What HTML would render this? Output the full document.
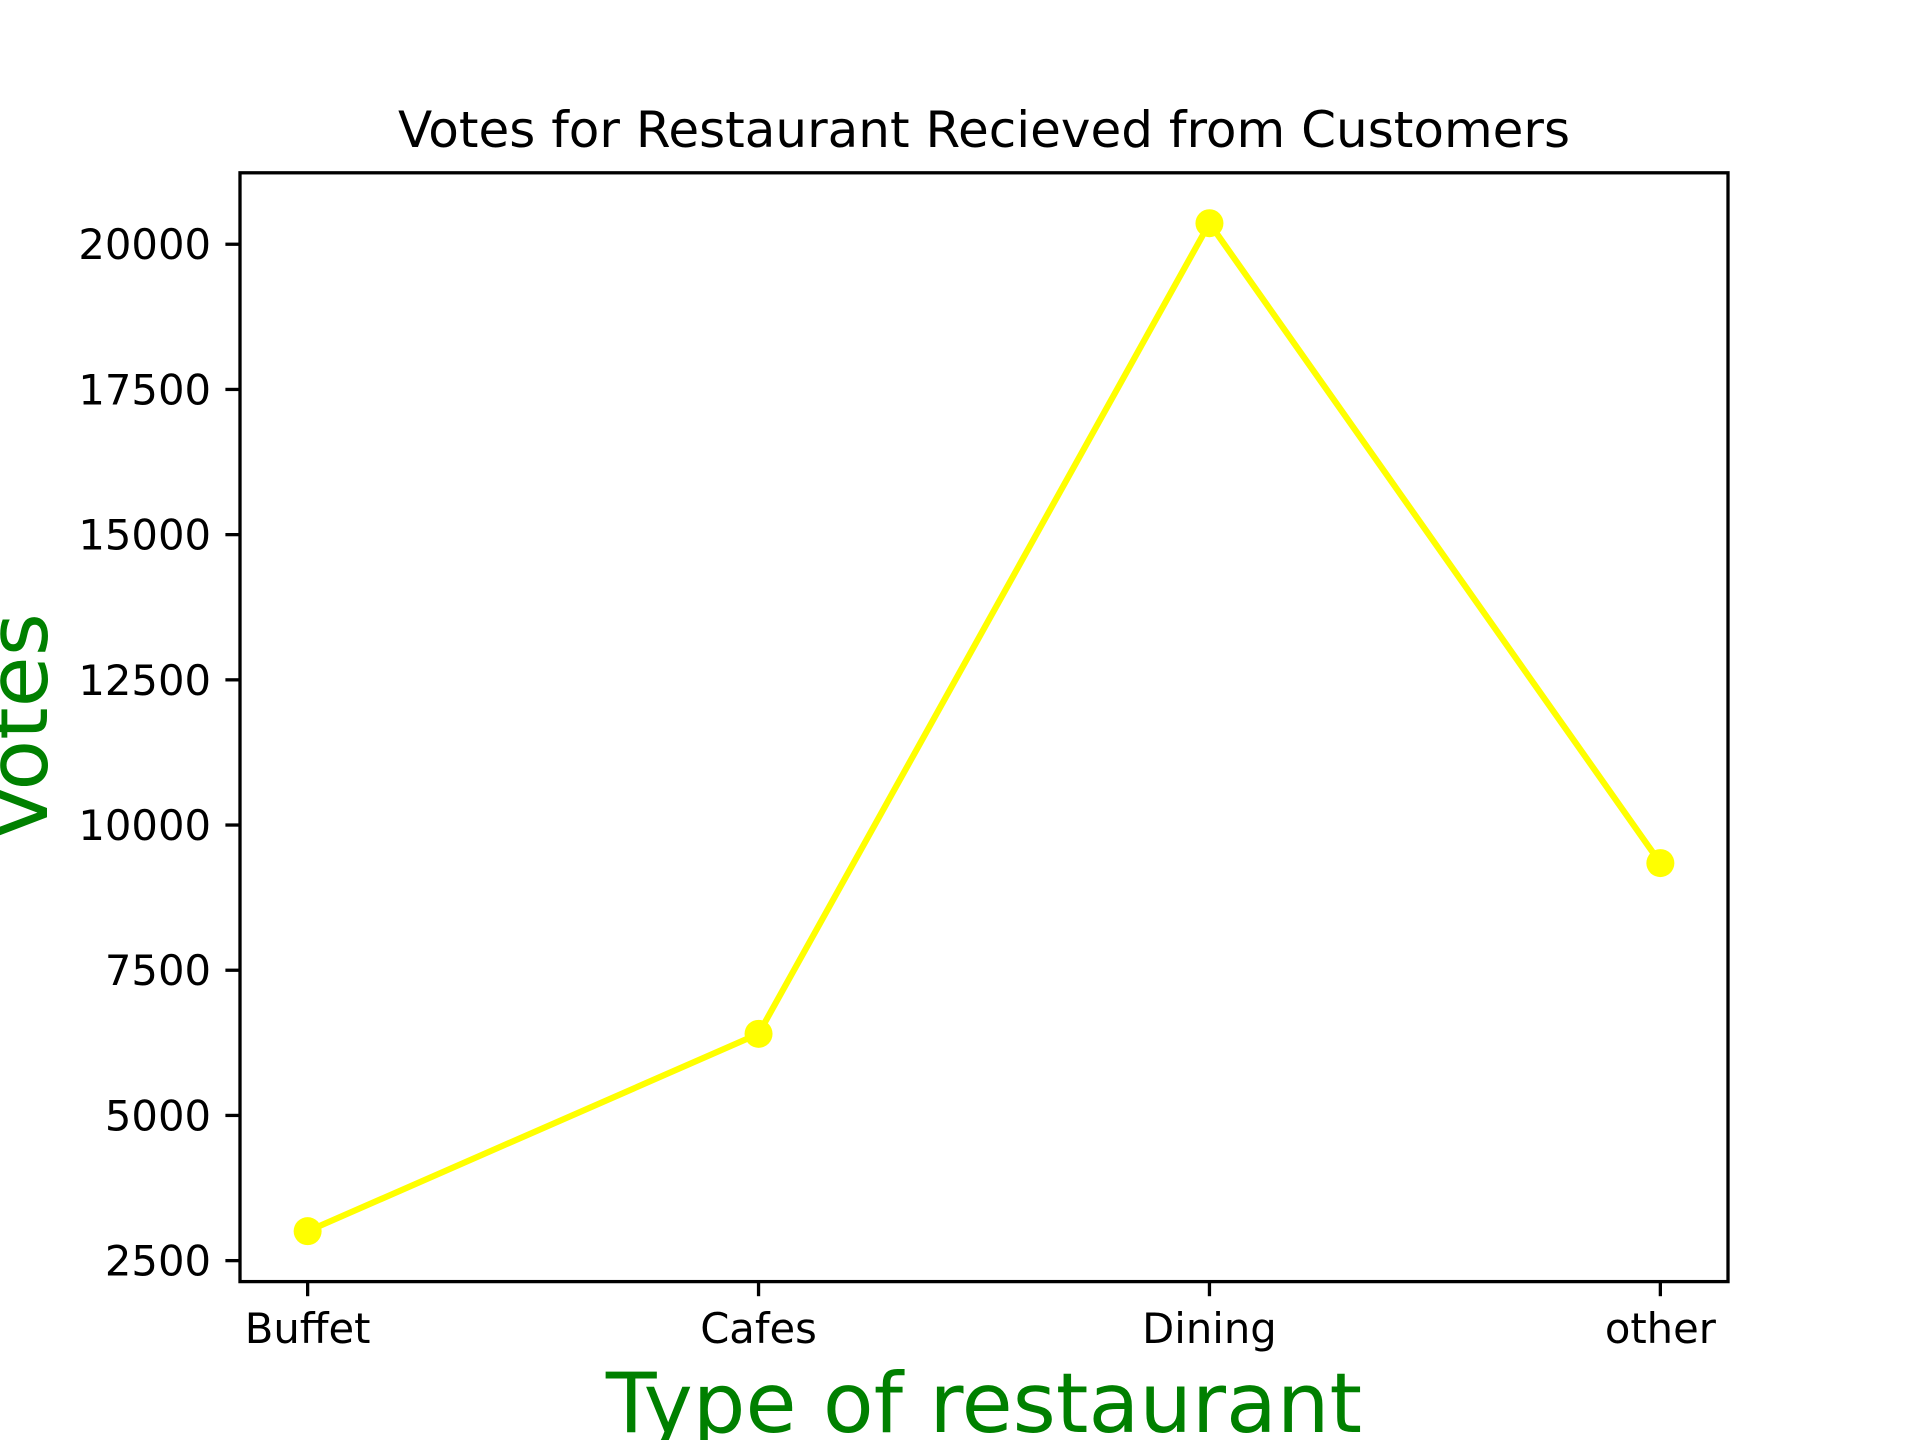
<!DOCTYPE html>
<html><head><meta charset="utf-8"><style>html,body{margin:0;padding:0;background:#fff;}svg{display:block;}</style></head>
<body>
<svg id="chart" width="1920" height="1440" xmlns="http://www.w3.org/2000/svg" font-family="'DejaVu Sans','Liberation Sans',sans-serif">
<rect width="1920" height="1440" fill="#fff"/>
<text x="984" y="147" font-size="50" text-anchor="middle">Votes for Restaurant Recieved from Customers</text>
<g id="plot"></g>
<text x="984" y="1432" font-size="83" fill="#008000" text-anchor="middle">Type of restaurant</text>
<text transform="translate(47,727) rotate(-90)" font-size="83" fill="#008000" text-anchor="middle">Votes</text>
</svg>
<script>
const categories = ["Buffet", "Cafes", "Dining", "other"];
const votes = [3007, 6405, 20362, 9345];
const yTicks = [2500, 5000, 7500, 10000, 12500, 15000, 17500, 20000];
const L = 240, R = 1728, T = 172.8, B = 1281.6;
const xmin = -0.15, xmax = categories.length - 1 + 0.15;
const ymin = 2139, ymax = 21230;
function xs(i){ return L + (i - xmin) / (xmax - xmin) * (R - L); }
function ys(v){ return B - (v - ymin) / (ymax - ymin) * (B - T); }
const NS = "http://www.w3.org/2000/svg";
const g = document.getElementById("plot");
function mk(tag, attrs){ const e = document.createElementNS(NS, tag); for (const k in attrs) e.setAttribute(k, attrs[k]); g.appendChild(e); return e; }
yTicks.forEach(v => {
  const y = ys(v);
  const t = mk("line", {x1: L - 14.6, x2: L, y1: y, y2: y, stroke: "#000", "stroke-width": 3.3});
  
  
  const lb = mk("text", {x: L - 29, y: y + 15, "font-size": 41.7, "text-anchor": "end"});
  
  
  lb.textContent = v;
});
categories.forEach((c, i) => {
  const x = xs(i);
  const t = mk("line", {x1: x, x2: x, y1: B, y2: B + 14.6, stroke: "#000", "stroke-width": 3.3});
  
  
  const lb = mk("text", {x: x, y: 1343, "font-size": 41.7, "text-anchor": "middle"});
  
  
  lb.textContent = c;
});
const pts = votes.map((v, i) => xs(i) + "," + ys(v)).join(" ");
const line = mk("polyline", {points: pts, fill: "none", stroke: "#ffff00", "stroke-width": 6.2, "stroke-linejoin": "round"});


votes.forEach((v, i) => {
  const c = mk("circle", {cx: xs(i), cy: ys(v), r: 14, fill: "#ffff00"});
  
  
});
const frame = mk("rect", {x: L, y: T, width: R - L, height: B - T, fill: "none", stroke: "#000", "stroke-width": 3.3});


</script>
</body></html>
